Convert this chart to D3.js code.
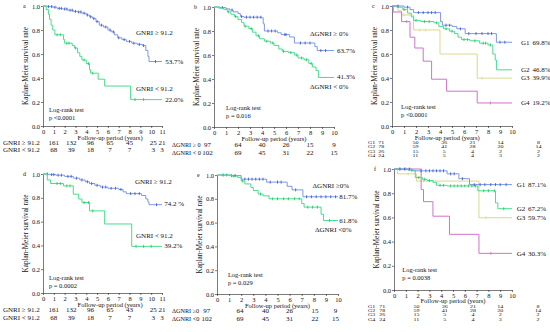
<!DOCTYPE html>
<html>
<head>
<meta charset="utf-8">
<script src="https://cdn.jsdelivr.net/npm/d3@7"></script>
<style>
  body { margin: 0; background: #fff; }
  svg { font-family: "Liberation Serif", "DejaVu Serif", serif; }
</style>
</head>
<body>
<svg id="chart" width="550" height="332"></svg>
<script>
// survival curves: [time (years), survival after the step]
const aHigh = [[0,1],[0.4,0.995],[0.9,0.99],[1.3,0.98],[1.8,0.975],[2.3,0.965],[2.8,0.955],[3.2,0.95],[3.6,0.94],[4.0,0.925],[4.3,0.91],[4.6,0.895],[4.9,0.87],[5.2,0.84],[5.6,0.825],[6.0,0.8],[6.3,0.785],[6.6,0.76],[6.9,0.735],[7.3,0.72],[7.7,0.705],[8.2,0.69],[8.7,0.68],[9.2,0.67],[9.5,0.63],[9.7,0.58],[9.8,0.537],[11,0.537]];
const aLow = [[0,1],[0.3,0.97],[0.5,0.93],[0.6,0.89],[0.75,0.84],[0.9,0.8],[1.1,0.76],[1.9,0.72],[2.0,0.69],[2.7,0.67],[2.9,0.65],[3.2,0.61],[3.4,0.58],[3.6,0.55],[4.0,0.52],[4.3,0.47],[4.4,0.44],[5.1,0.39],[5.7,0.333],[8.1,0.22],[11,0.22]];
const bHigh = [[0,1],[0.5,0.995],[1.0,0.985],[1.3,0.975],[1.6,0.96],[2.0,0.945],[2.2,0.92],[2.5,0.915],[4.0,0.91],[4.1,0.86],[4.2,0.8],[5.3,0.785],[5.6,0.77],[6.3,0.75],[6.7,0.7],[8.4,0.67],[8.6,0.637],[10,0.637]];
const bLow = [[0,1],[0.4,0.99],[0.8,0.98],[1.1,0.96],[1.4,0.94],[1.7,0.92],[2.0,0.895],[2.3,0.87],[2.5,0.84],[2.9,0.82],[3.2,0.79],[3.5,0.76],[3.8,0.735],[4.2,0.715],[4.7,0.7],[5.0,0.68],[5.4,0.65],[5.7,0.63],[6.2,0.62],[6.7,0.6],[7.0,0.575],[7.5,0.56],[7.9,0.53],[8.2,0.5],[8.5,0.47],[8.7,0.413],[10,0.413]];
const cG1 = [[0,1],[1.0,0.99],[1.5,0.97],[1.8,0.945],[4.05,0.87],[4.2,0.84],[5.0,0.83],[5.4,0.81],[6.1,0.77],[8.7,0.698],[10,0.698]];
const cG2 = [[0,1],[0.4,0.99],[0.9,0.97],[1.3,0.94],[1.6,0.91],[1.8,0.88],[2.4,0.87],[3.5,0.86],[3.9,0.83],[4.3,0.81],[4.8,0.79],[5.2,0.77],[5.5,0.74],[5.8,0.72],[6.5,0.71],[7.3,0.69],[8.0,0.675],[8.4,0.6],[8.6,0.55],[8.7,0.468],[10,0.468]];
const cG3 = [[0,1],[0.5,0.96],[0.8,0.925],[1.8,0.8],[4.0,0.6],[7.1,0.399],[10,0.399]];
const cG4 = [[0,1],[0.1,0.95],[0.8,0.87],[1.5,0.74],[1.9,0.65],[2.6,0.54],[3.3,0.39],[4.55,0.29],[7.1,0.192],[10,0.192]];
const dHigh = [[0,1],[0.5,0.995],[1.2,0.99],[2.0,0.98],[2.8,0.965],[3.4,0.95],[3.9,0.935],[4.3,0.92],[4.8,0.905],[5.3,0.89],[6.0,0.88],[7.0,0.87],[7.4,0.85],[7.7,0.835],[9.1,0.82],[9.5,0.79],[9.7,0.765],[9.8,0.742],[11,0.742]];
const dLow = [[0,1],[0.4,0.95],[0.7,0.92],[1.9,0.9],[2.8,0.83],[3.3,0.79],[3.6,0.76],[4.3,0.69],[5.7,0.58],[8.2,0.392],[11,0.392]];
const eHigh = [[0,1],[1.0,0.995],[2.0,0.965],[4.1,0.94],[5.8,0.905],[6.2,0.875],[7.1,0.817],[10,0.817]];
const eLow = [[0,1],[1.2,0.99],[1.7,0.98],[2.0,0.95],[2.3,0.925],[2.8,0.895],[3.0,0.87],[3.4,0.84],[3.8,0.825],[4.3,0.8],[7.0,0.76],[7.2,0.73],[8.6,0.67],[8.8,0.618],[10,0.618]];
const fG1 = [[0,1],[1.5,0.985],[4.5,0.96],[5.5,0.92],[6.4,0.871],[10,0.871]];
const fG2 = [[0,1],[0.6,0.995],[1.2,0.99],[1.8,0.93],[2.4,0.915],[2.8,0.905],[3.3,0.89],[3.6,0.865],[4.5,0.86],[7.1,0.82],[8.6,0.72],[8.8,0.672],[10,0.672]];
const fG3 = [[0,1],[0.3,0.96],[1.9,0.9],[7.2,0.597],[10,0.597]];
const fG4 = [[0,1],[2.3,0.83],[2.5,0.73],[3.3,0.61],[4.7,0.46],[7.2,0.303],[10,0.303]];

// censoring times
const aHighCens = [0.5,0.8,1.1,1.5,1.7,2.0,2.2,2.5,2.7,3.0,3.3,3.5,3.8,4.1,4.4,4.7,5.0,5.4,5.8,6.2,6.5,7.0,7.5,8.0,8.4,8.9,9.3,10.4];
const aLowCens = [1.3,1.6,2.2,2.4,3.0,3.8,4.2,4.6,8.5,9.3];
const bHighCens = [0.7,1.5,2.3,2.7,3.0,3.3,3.6,3.9,4.5,4.8,5.1,5.9,6.0,7.2,7.6,8.0,8.9,9.3];
const bLowCens = [1.2,1.8,2.6,3.1,3.7,4.4,4.9,5.8,6.4,6.9,7.3,7.7,8.1];
const cG1Cens = [0.5,1.3,2.2,2.6,3.0,3.3,3.6,4.5,4.8,5.7,6.4,7.0,7.5,8.0,8.3,9.0,9.4];
const cG2Cens = [1.0,2.0,2.7,3.1,3.7,4.5,5.0,6.0,6.3,6.9,7.6,7.8,8.2];
const cG3Cens = [1.0,2.3,2.8,7.5];
const cG4Cens = [1.2,8.2];
const dHighCens = [0.4,0.8,1.0,1.4,1.7,2.3,2.6,3.1,3.6,4.1,4.5,5.0,5.5,5.8,6.3,6.7,7.2,8.1,8.5,8.9,10.5];
const dLowCens = [1.3,1.6,2.2,2.5,3.8,4.2,4.6,8.6,9.3,10.0];
const eHighCens = [0.5,1.2,1.5,2.3,2.6,2.9,3.2,3.5,3.8,4.4,5.0,5.3,6.5,7.4,7.8,8.2,8.6,9.0,9.4,9.8];
const eLowCens = [0.8,1.4,2.1,3.6,4.6,5.0,5.5,5.9,6.4,6.8,7.5,7.9,8.3,9.3];
const fG1Cens = [0.5,0.9,1.3,2.3,2.7,3.0,3.3,3.6,3.9,4.2,4.8,5.1,5.8,6.8,7.3,7.7,8.2,8.6,9.0,9.5];
const fG2Cens = [1.5,2.1,2.6,3.0,3.9,4.2,4.8,5.1,5.4,5.7,6.0,6.3,6.6,6.9,7.6,8.0,8.5,9.3];
const fG3Cens = [1.2,2.5,7.8];
const fG4Cens = [0.5,1.0,8.2];

// numbers at risk
const riskGnriHigh = [161,132,96,65,45,25,21];
const riskGnriLow = [68,39,18,7,7,3,3];
const riskGnriHighD = [161,132,96,65,43,25,21];
const riskDeltaHigh = [97,64,40,26,15,9];
const riskDeltaLow = [102,69,45,31,22,15];
const riskG1 = [71,50,36,21,14,8];
const riskG2 = [78,59,41,28,20,14];
const riskG3 = [26,15,5,4,2,2];
const riskG4 = [24,11,5,4,3,2];

const yTicks = [0,0.2,0.4,0.6,0.8,1.0];

const BLUE = "#7d98e6", BLUE_C = "#2f50c6";
const GREEN = "#45de8c", GREEN_C = "#1fc262";
const YELLOW = "#d9d98e", PINK = "#cf72cc";

const panels = [
  {id:"a", x0:43, x1:162, yTop:6, yBot:126, tMax:11, titleT:6.2, titleDy:13.5,
   curves:[{d:aHigh, c:aHighCens, col:BLUE, cc:BLUE_C},{d:aLow, c:aLowCens, col:GREEN, cc:GREEN_C}],
   labels:[["GNRI \u2265 91.2",8.6,0.775],["53.7%",11.3,0.537],["GNRI < 91.2",8.6,0.31],["22.0%",11.3,0.22]],
   test:["p <0.0001",0.55,0.135],
   risk:{labelX:3, rowY:[145,152], cols:[1.0,2.6,4.4,6.2,8.0,10.2,11.0], fs:7, lfs:7, sx:1,
         rows:[["GNRI \u2265 91.2",riskGnriHigh],["GNRI < 91.2",riskGnriLow]]}},
  {id:"b", x0:214, x1:334, yTop:7, yBot:127, tMax:10, titleT:5, titleDy:13.8,
   curves:[{d:bHigh, c:bHighCens, col:BLUE, cc:BLUE_C},{d:bLow, c:bLowCens, col:GREEN, cc:GREEN_C}],
   labels:[["\u0394GNRI \u2265 0%",8.0,0.775],["63.7%",10.25,0.637],["41.3%",10.25,0.42],["\u0394GNRI < 0%",8.0,0.333]],
   test:["p = 0.016",1.0,0.16],
   risk:{labelX:172, rowY:[147,154.5], cols:[-0.55,2,4,6,8,10], fs:7, lfs:6.2, sx:1,
         rows:[["\u0394GNRI \u2265 0",riskDeltaHigh],["\u0394GNRI < 0",riskDeltaLow]]}},
  {id:"c", x0:392, x1:512, yTop:6, yBot:126, tMax:10, titleT:4.6, titleDy:13.5,
   curves:[{d:cG3, c:cG3Cens, col:YELLOW, cc:YELLOW},{d:cG4, c:cG4Cens, col:PINK, cc:PINK},
           {d:cG2, c:cG2Cens, col:GREEN, cc:GREEN_C},{d:cG1, c:cG1Cens, col:BLUE, cc:BLUE_C}],
   labels:[["G1",10.75,0.698],["69.8%",11.7,0.698],["G2",10.75,0.467],["46.8%",11.7,0.467],
           ["G3",10.75,0.40],["39.9%",11.7,0.40],["G4",10.75,0.192],["19.2%",11.7,0.192]],
   test:["p <0.0001",0.75,0.158],
   risk:{labelX:368, rowY:[144,148.3,152.5,156.7], cols:[-0.9,1.95,4.35,6.7,9.05,12.2], fs:4.3, lfs:4.3, sx:1.4,
         rows:[["G1",riskG1],["G2",riskG2],["G3",riskG3],["G4",riskG4]]}},
  {id:"d", x0:43, x1:162, yTop:174, yBot:293, tMax:11, titleT:6.2, titleDy:13.5,
   curves:[{d:dHigh, c:dHighCens, col:BLUE, cc:BLUE_C},{d:dLow, c:dLowCens, col:GREEN, cc:GREEN_C}],
   labels:[["GNRI \u2265 91.2",8.5,0.94],["74.2 %",11.2,0.75],["GNRI < 91.2",8.6,0.48],["39.2%",11.2,0.395]],
   test:["p = 0.0002",0.55,0.13],
   risk:{labelX:3, rowY:[312,320], cols:[1.0,2.6,4.4,6.2,8.0,10.2,11.0], fs:7, lfs:7, sx:1,
         rows:[["GNRI \u2265 91.2",riskGnriHighD],["GNRI < 91.2",riskGnriLow]]}},
  {id:"e", x0:217, x1:338, yTop:175, yBot:294, tMax:10, titleT:5, titleDy:13.5,
   curves:[{d:eHigh, c:eHighCens, col:BLUE, cc:BLUE_C},{d:eLow, c:eLowCens, col:GREEN, cc:GREEN_C}],
   labels:[["\u0394GNRI \u22650%",7.9,0.91],["81.7%",10.1,0.817],["61.8%",10.1,0.62],["\u0394GNRI <0%",8.1,0.545]],
   test:["p = 0.029",0.9,0.16],
   risk:{labelX:172, rowY:[313,321], cols:[-0.85,1.9,4.0,6.0,8.1,9.8], fs:7, lfs:6.2, sx:1,
         rows:[["\u0394GNRI \u22650",riskDeltaHigh],["\u0394GNRI <0",riskDeltaLow]]}},
  {id:"f", x0:394, x1:512, yTop:169, yBot:290, tMax:10, titleT:5, titleDy:13.2,
   curves:[{d:fG3, c:fG3Cens, col:YELLOW, cc:YELLOW},{d:fG4, c:fG4Cens, col:PINK, cc:PINK},
           {d:fG2, c:fG2Cens, col:GREEN, cc:GREEN_C},{d:fG1, c:fG1Cens, col:BLUE, cc:BLUE_C}],
   labels:[["G1",10.4,0.871],["87.1%",11.35,0.871],["G2",10.4,0.67],["67.2%",11.35,0.67],
           ["G3",10.4,0.60],["59.7%",11.35,0.60],["G4",10.4,0.305],["30.3%",11.35,0.305]],
   test:["p = 0.0038",0.7,0.165],
   risk:{labelX:368, rowY:[308,312.2,316.4,320.6], cols:[-1.0,1.9,4.3,6.7,9.0,12.2], fs:4.3, lfs:4.3, sx:1.4,
         rows:[["G1",riskG1],["G2",riskG2],["G3",riskG3],["G4",riskG4]]}}
];

const svg = d3.select("#chart");

// step function value at time t
function survAt(curve, t) {
  let s = curve[0][1];
  for (const p of curve) { if (p[0] <= t) s = p[1]; else break; }
  return s;
}

panels.forEach(p => {
  const g = svg.append("g");
  const x = d3.scaleLinear().domain([0, p.tMax]).range([p.x0, p.x1]);
  const y = d3.scaleLinear().domain([0, 1]).range([p.yBot, p.yTop]);

  // axes
  const xa = g.append("g")
    .attr("transform", "translate(0," + p.yBot + ")")
    .call(d3.axisBottom(x).ticks(p.tMax).tickFormat(d3.format("d")).tickSize(2).tickSizeOuter(0).tickPadding(1));
  const ya = g.append("g")
    .attr("transform", "translate(" + p.x0 + ",0)")
    .call(d3.axisLeft(y).tickValues(yTicks).tickFormat(d3.format(".1f")).tickSize(2).tickSizeOuter(0).tickPadding(1));
  [xa, ya].forEach(a => {
    a.attr("font-family", null).attr("font-size", 6.5);
    a.selectAll("path, line").attr("stroke", "#222").attr("stroke-width", 0.6);
    a.selectAll("text").attr("fill", "#111");
  });

  g.append("text")
    .attr("x", x(p.titleT)).attr("y", p.yBot + p.titleDy)
    .attr("text-anchor", "middle").attr("font-size", 6.5).attr("fill", "#111")
    .text("Follow-up period (years)");

  g.append("text")
    .attr("transform", "translate(" + (p.x0 - 15) + "," + y(0.5) + ") rotate(-90)")
    .attr("text-anchor", "middle").attr("font-size", 7.2).attr("fill", "#111")
    .text("Kaplan-Meier survival rate");

  g.append("text")
    .attr("x", p.x0 - 20).attr("y", p.yTop + 2)
    .attr("font-size", 6).attr("fill", "#111")
    .text(p.id);

  // curves
  const line = d3.line().x(d => x(d[0])).y(d => y(d[1])).curve(d3.curveStepAfter);
  p.curves.forEach(cv => {
    g.append("path").datum(cv.d)
      .attr("d", line).attr("fill", "none")
      .attr("stroke", cv.col).attr("stroke-width", 1);
    g.selectAll(null).data(cv.c).enter().append("line")
      .attr("x1", d => x(d)).attr("x2", d => x(d))
      .attr("y1", d => y(survAt(cv.d, d)) - 1.5)
      .attr("y2", d => y(survAt(cv.d, d)) + 1.5)
      .attr("stroke", cv.cc).attr("stroke-width", 0.8);
  });

  // curve labels
  g.selectAll(null).data(p.labels).enter().append("text")
    .attr("x", d => x(d[1])).attr("y", d => y(d[2]))
    .attr("dy", "0.35em").attr("font-size", 7).attr("fill", "#111")
    .text(d => d[0]);

  // log-rank annotation
  g.append("text").attr("x", x(p.test[1])).attr("y", y(p.test[2]))
    .attr("dy", "0.35em").attr("font-size", 6.5).attr("fill", "#111").text("Log-rank test");
  g.append("text").attr("x", x(p.test[1])).attr("y", y(p.test[2]) + 8)
    .attr("dy", "0.35em").attr("font-size", 6.5).attr("fill", "#111").text(p.test[0]);

  // numbers at risk (squeezed vertically in the four-group tables)
  const r = p.risk;
  r.rows.forEach((row, i) => {
    g.append("text")
      .attr("transform", "translate(" + r.labelX + "," + r.rowY[i] + ") scale(" + r.sx + ",1)")
      .attr("font-size", r.lfs).attr("fill", "#111").text(row[0]);
    g.selectAll(null).data(row[1]).enter().append("text")
      .attr("transform", (d, j) => "translate(" + x(r.cols[j]) + "," + r.rowY[i] + ") scale(" + r.sx + ",1)")
      .attr("text-anchor", "middle").attr("font-size", r.fs).attr("fill", "#111")
      .text(d => d);
  });
});
</script>
</body>
</html>
